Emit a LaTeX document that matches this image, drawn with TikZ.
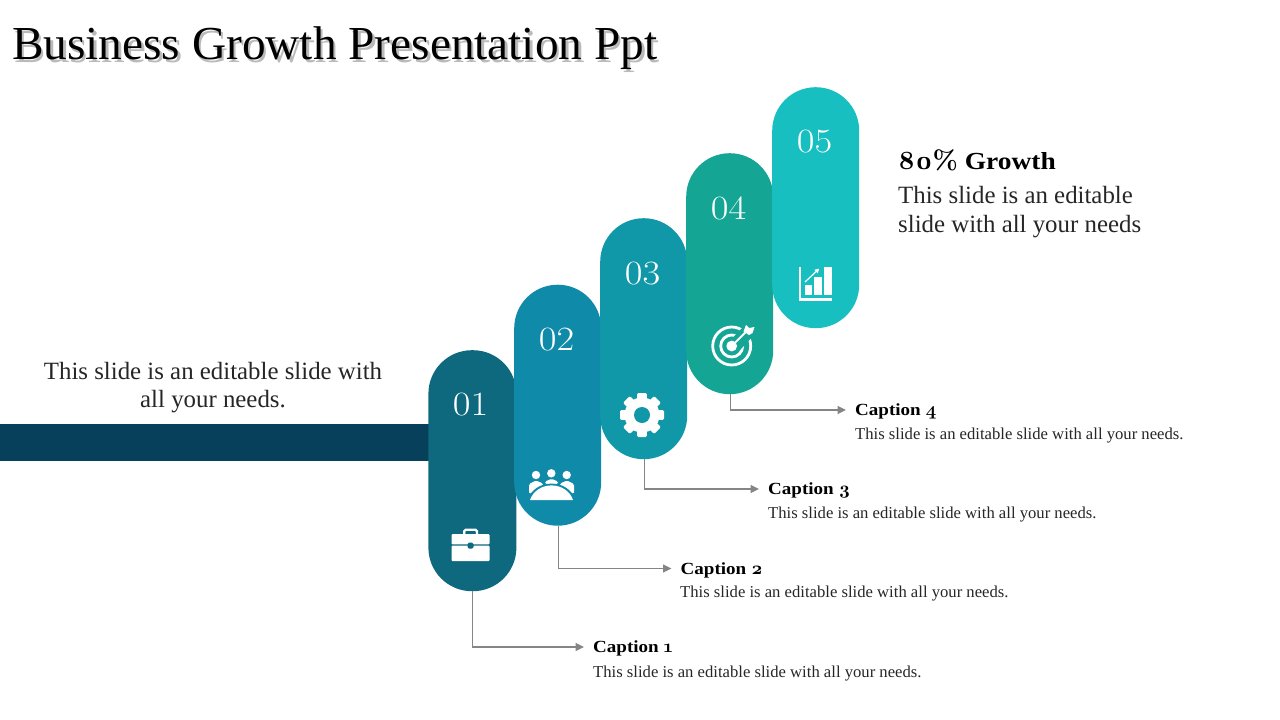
\documentclass[tikz,border=0pt]{standalone}
\usepackage{fontspec}
\setmainfont{Liberation Serif}
\newfontfamily\osf[Numbers=OldStyle,Extension=.otf,Scale=1.08]{lmroman10-bold}
\newfontfamily\numf[FakeStretch=1.13]{Latin Modern Roman}
\newfontfamily\widef[FakeStretch=1.12]{Liberation Serif}
\definecolor{barc}{HTML}{07405A}
\definecolor{pa}{HTML}{0E687E}
\definecolor{pb}{HTML}{0F8AA8}
\definecolor{pc}{HTML}{1198A8}
\definecolor{pd}{HTML}{14A594}
\definecolor{pe}{HTML}{17BFC1}
\definecolor{linec}{HTML}{858585}
\definecolor{bodyc}{HTML}{262626}
\usetikzlibrary{arrows.meta}
\newcommand{\fs}[1]{\fontsize{#1}{#1}\selectfont}
\tikzset{
 x=1pt,y=-1pt,
 pill/.style={rectangle,rounded corners=43.5pt,minimum width=87pt,minimum height=241pt,inner sep=0pt,anchor=north west,fill=#1,draw=none},
 numlab/.style={text=white,inner sep=0pt,font=\fs{34}\numf},
 conn/.style={draw=linec,line width=1.1pt,-{Triangle[length=8.5pt,width=8pt]}},
 caphead/.style={anchor=west,inner xsep=9pt,inner ysep=0pt,text height=13pt,text depth=2pt,font=\fs{17}\widef\bfseries,text=black},
 capbody/.style={anchor=west,inner sep=0pt,font=\fs{16.65},text=bodyc},
 para/.style={inner sep=0pt,font=\fs{24.85},text=bodyc},
 icon/.style={fill=white,draw=none},
}
\begin{document}
\begin{tikzpicture}
\useasboundingbox (0,0) rectangle (1280,720);
% title
\node[anchor=west,inner sep=0pt,font=\fs{47.3},text=black!27] at (14.5,51.5) {Business Growth Presentation Ppt};
\node[anchor=west,inner sep=0pt,font=\fs{47.3},text=black] (title) at (12,48.5) {Business Growth Presentation Ppt};
% bar
\fill[barc] (0,424) rectangle (430,461);
% pills
\node[pill=pa,minimum width=88pt] (p1) at (428.2,350) {};
\node[pill=pb] (p2) at (514,284.5) {};
\node[pill=pc] (p3) at (600,218) {};
\node[pill=pd] (p4) at (686,153) {};
\node[pill=pe] (p5) at (772,87) {};
% numbers
\node[numlab] (n1) at (470.5,404.5) {01};
\node[numlab] (n2) at (556.5,339.5) {02};
\node[numlab] (n3) at (642.5,273.5) {03};
\node[numlab] (n4) at (728.5,208) {04};
\node[numlab] (n5) at (814.5,142) {05};
% briefcase
\draw[white,line width=2.2pt,rounded corners=1.5pt] (464.2,534.5) -- (464.2,529.8) -- (477,529.8) -- (477,534.5);
\fill[icon,rounded corners=1pt] (451.5,534) rectangle (489.5,544.4);
\fill[icon,rounded corners=1pt] (451.5,545.6) rectangle (489.5,561);
\fill[pa,rounded corners=1.5pt] (467.5,542.5) rectangle (473.5,548.5);
% people
\fill[icon] (536,475) circle (4.2pt) (551.3,473.3) circle (4.2pt) (566.7,475) circle (4.2pt);
\fill[icon,rounded corners=1.5pt] (529,494) -- (529,484) -- (536,480.5) -- (543,483.5) -- (543,487) -- cycle;
\fill[icon,rounded corners=1.5pt] (574,494) -- (574,484) -- (567,480.5) -- (560,483.5) -- (560,487) -- cycle;
\fill[icon,rounded corners=1.5pt] (545,484) -- (545,481.5) -- (551.5,478.8) -- (558,481.5) -- (558,484) -- cycle;
\fill[pb] (527.5,500.5) .. controls (531,489) and (541,483.6) .. (551.5,483.6) .. controls (562,483.6) and (572,489) .. (575.5,500.5) -- cycle;
\fill[icon] (530,500) .. controls (533,491) and (542,485.4) .. (551.5,485.4) .. controls (561,485.4) and (570,491) .. (573,500) -- cycle;
% gear
\fill[icon] (642,415) circle (17.5pt);
\foreach \a in {0,45,...,315}{
 \fill[icon,rotate around={\a:(642,415)},rounded corners=1.2pt] (637.2,393) rectangle (646.8,402);
}
\fill[pc] (642,415) circle (8pt);
% target
\draw[white,line width=2.8pt] (731.7,346) circle (19pt);
\draw[white,line width=2.8pt] (731.7,346) circle (11pt);
\fill[pd] (733,337.5) -- (745,325) -- (757,332) -- (740,350) -- cycle;
\fill[icon] (731.7,346) circle (5.4pt);
\draw[white,line width=2pt] (731.7,346) -- (747,330.7);
\fill[icon] (743.5,331.5) -- (746,325) -- (749,328) -- (754.5,327) -- (752.5,333) -- (749,335) -- cycle;
% chart
\fill[icon] (798.7,267.3) rectangle (800.9,300.7);
\fill[icon] (798.7,298.4) rectangle (832,300.7);
\fill[icon] (805,285.3) rectangle (811.7,295.2);
\fill[icon] (814.3,276.7) rectangle (821.7,295.2);
\fill[icon] (824.3,267.3) rectangle (832,295.2);
\draw[white,line width=1.2pt,-{Triangle[length=4.5pt,width=4.5pt]}] (805,282) -- (819.3,268.5);
% left and right text
\node[para,align=center] (lt) at (213,387.5) {This slide is an editable slide with\\[4pt]all your needs.};
\node[anchor=west,inner sep=0pt,font=\fs{24.5}\widef\bfseries,text=black] (rh) at (898,160.5) {{\osf 80\%} Growth};
\node[para,anchor=west,align=left] (rt) at (898,212) {This slide is an editable\\[4pt]slide with all your needs};
% captions
\node[caphead] (c1) at (584,647) {Caption {\osf 1}};
\node[capbody] (b1) at (593,673.5) {This slide is an editable slide with all your needs.};
\node[caphead] (c2) at (671.5,568.5) {Caption {\osf 2}};
\node[capbody] (b2) at (680,593.5) {This slide is an editable slide with all your needs.};
\node[caphead] (c3) at (759,489) {Caption {\osf 3}};
\node[capbody] (b3) at (768,514.5) {This slide is an editable slide with all your needs.};
\node[caphead] (c4) at (846,410) {Caption {\osf 4}};
\node[capbody] (b4) at (855,435.5) {This slide is an editable slide with all your needs.};
% connectors
\draw[conn] ([xshift=.5pt]p1.south) |- (c1.west);
\draw[conn] ([xshift=.7pt]p2.south) |- (c2.west);
\draw[conn] ([xshift=.7pt]p3.south) |- (c3.west);
\draw[conn] ([xshift=.7pt]p4.south) |- (c4.west);
\end{tikzpicture}
\end{document}
